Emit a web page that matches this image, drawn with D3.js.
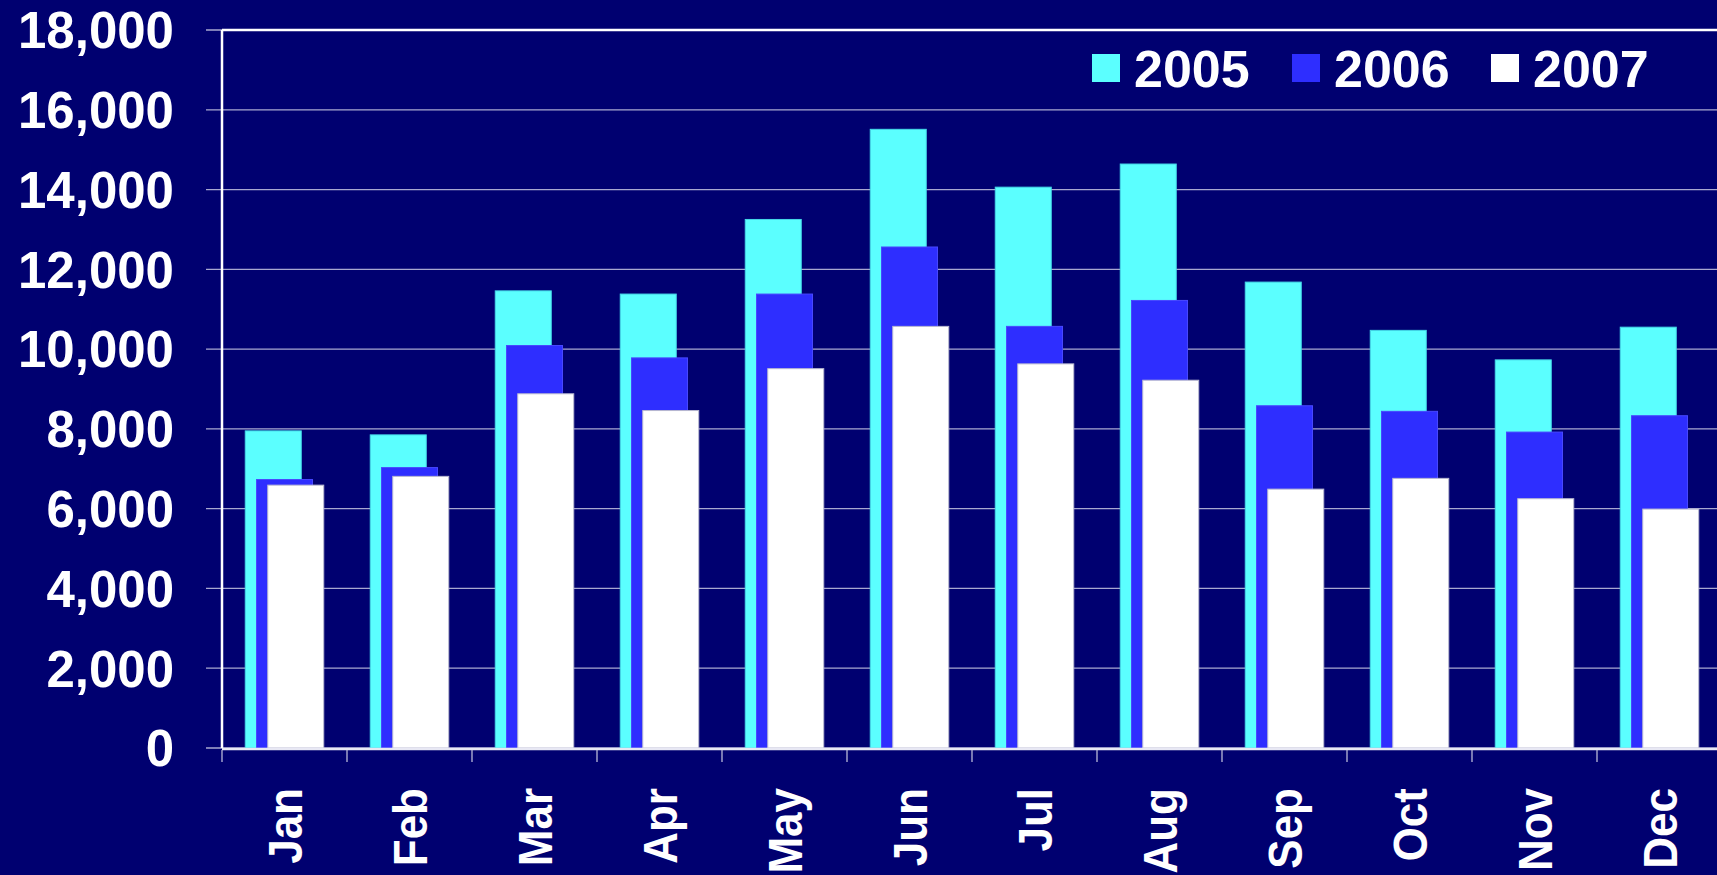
<!DOCTYPE html>
<html>
<head>
<meta charset="utf-8">
<script src="https://cdn.jsdelivr.net/npm/d3@7"></script>
<style>
  html, body { margin: 0; padding: 0; background: #000070; overflow: hidden; }
  svg { display: block; font-family: "Liberation Sans", Arial, sans-serif; font-weight: bold; }
</style>
</head>
<body>
<svg id="chart" width="1717" height="875"></svg>
<script>
var months = ["Jan", "Feb", "Mar", "Apr", "May", "Jun", "Jul", "Aug", "Sep", "Oct", "Nov", "Dec"];
var seriesNames = ["2005", "2006", "2007"];
var values2005 = [7950, 7850, 11460, 11380, 13250, 15510, 14060, 14640, 11680, 10470, 9730, 10550];
var values2006 = [6730, 7030, 10090, 9780, 11380, 12560, 10570, 11220, 8580, 8440, 7920, 8330];
var values2007 = [6590, 6810, 8880, 8460, 9510, 10570, 9630, 9220, 6490, 6760, 6250, 5990];
var yTicks = [0, 2000, 4000, 6000, 8000, 10000, 12000, 14000, 16000, 18000];

var colors = ["#5bffff", "#2e2eff", "#ffffff"];
var strokes = ["#45d8e8", "#4848ff", "#b8b8d0"];

var svg = d3.select("#chart");
var plotLeft = 222, plotTop = 30, plotBottom = 748, plotRight = 1722;

var x = d3.scaleBand()
	.domain(months)
	.range([plotLeft, plotRight]);

var y = d3.scaleLinear()
	.domain([0, 18000])
	.range([plotBottom, plotTop]);

var band = x.bandwidth();
var barW = band * 0.448;
var step = band * 0.09;

// gridlines (also act as outside ticks on the left)
svg.append("g").selectAll("line")
	.data(yTicks)
	.enter().append("line")
		.attr("x1", plotLeft - 16)
		.attr("x2", plotRight)
		.attr("y1", function(d) { return y(d); })
		.attr("y2", function(d) { return y(d); })
		.attr("stroke", "#a8a8d0")
		.attr("stroke-width", 1.3);

// bars, one layer per year so later years sit in front
var data = [values2005, values2006, values2007];
data.forEach(function(vals, i) {
	svg.append("g").selectAll("rect")
		.data(vals)
		.enter().append("rect")
			.attr("x", function(d, j) { return x(months[j]) + (band - barW - 2 * step) / 2 + i * step; })
			.attr("y", function(d) { return y(d); })
			.attr("width", barW)
			.attr("height", function(d) { return y(0) - y(d); })
			.attr("fill", colors[i])
			.attr("stroke", strokes[i])
			.attr("stroke-width", 1);
});

// plot frame: top and left white border, bottom axis
svg.append("line").attr("x1", plotLeft).attr("x2", plotRight).attr("y1", plotTop).attr("y2", plotTop)
	.attr("stroke", "#ffffff").attr("stroke-width", 2.5);
svg.append("line").attr("x1", plotLeft).attr("x2", plotLeft).attr("y1", plotTop).attr("y2", plotBottom)
	.attr("stroke", "#ffffff").attr("stroke-width", 2.5);
svg.append("line").attr("x1", plotLeft).attr("x2", plotRight).attr("y1", plotBottom + 1).attr("y2", plotBottom + 1)
	.attr("stroke", "#e8e8f4").attr("stroke-width", 2.5);

// category tick marks
svg.append("g").selectAll("line")
	.data(months)
	.enter().append("line")
		.attr("x1", function(d) { return x(d); })
		.attr("x2", function(d) { return x(d); })
		.attr("y1", plotBottom + 2)
		.attr("y2", plotBottom + 14)
		.attr("stroke", "#b8b8d8")
		.attr("stroke-width", 1.3);

// y axis labels
var fmt = d3.format(",");
svg.append("g").selectAll("text")
	.data(yTicks)
	.enter().append("text")
		.attr("x", 174)
		.attr("y", function(d) { return y(d); })
		.attr("dy", "0.36em")
		.attr("text-anchor", "end")
		.attr("fill", "#ffffff")
		.attr("font-size", 51)
		.text(function(d) { return fmt(d); });

// month labels, rotated
svg.append("g").selectAll("text")
	.data(months)
	.enter().append("text")
		.attr("transform", function(d) {
			return "translate(" + (x(d) + band / 2) + "," + 788 + ") rotate(-90) scale(1,1.1)";
		})
		.attr("y", 15.5)
		.attr("text-anchor", "end")
		.attr("fill", "#ffffff")
		.attr("font-size", 44)
		.text(function(d) { return d; });

// legend
var legendX = [1092, 1292, 1491];
var legend = svg.append("g").selectAll("g")
	.data(seriesNames)
	.enter().append("g")
		.attr("transform", function(d, i) { return "translate(" + legendX[i] + ",0)"; });

legend.append("rect")
	.attr("x", 0)
	.attr("y", 54)
	.attr("width", 28)
	.attr("height", 28)
	.attr("fill", function(d, i) { return colors[i]; });

legend.append("text")
	.attr("x", 42)
	.attr("y", 86.7)
	.attr("fill", "#ffffff")
	.attr("font-size", 52)
	.text(function(d) { return d; });
</script>
</body>
</html>
